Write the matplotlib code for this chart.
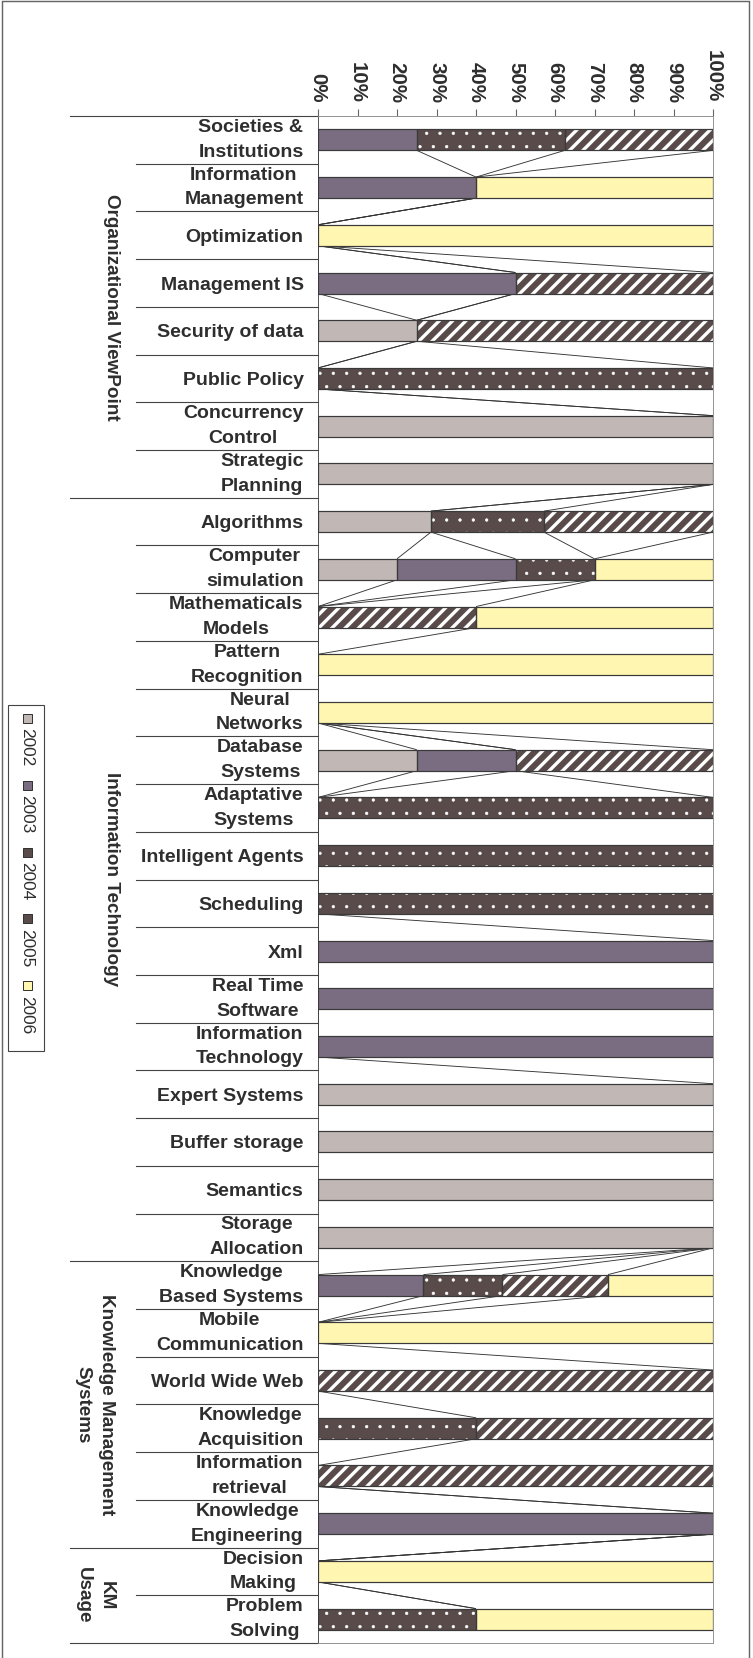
import numpy as np
import matplotlib
matplotlib.use("Agg")
import matplotlib.pyplot as plt
import matplotlib.transforms as mtransforms
from matplotlib.collections import LineCollection
from matplotlib.patches import Rectangle

# chart data: share (%) of each year per topic, topics listed top to bottom
categories = [
    "Societies &\nInstitutions", "Information\nManagement", "Optimization",
    "Management IS", "Security of data", "Public Policy",
    "Concurrency\nControl", "Strategic\nPlanning",
    "Algorithms", "Computer\nsimulation", "Mathematicals\nModels",
    "Pattern\nRecognition", "Neural\nNetworks", "Database\nSystems",
    "Adaptative\nSystems", "Intelligent Agents", "Scheduling", "Xml",
    "Real Time\nSoftware", "Information\nTechnology", "Expert Systems",
    "Buffer storage", "Semantics", "Storage\nAllocation",
    "Knowledge\nBased Systems", "Mobile\nCommunication", "World Wide Web",
    "Knowledge\nAcquisition", "Information\nretrieval",
    "Knowledge\nEngineering",
    "Decision\nMaking", "Problem\nSolving",
]

groups = ["Organizational ViewPoint", "Information Technology",
          "Knowledge Management\nSystems", "KM\nUsage"]
group_sizes = [8, 16, 6, 2]

years = ["2002", "2003", "2004", "2005", "2006"]

share_2002 = [0, 0, 0, 0, 25, 0, 100, 100,
              28.6, 20, 0, 0, 0, 25, 0, 0, 0, 0, 0, 0, 100, 100, 100, 100,
              0, 0, 0, 0, 0, 0,
              0, 0]
share_2003 = [25, 40, 0, 50, 0, 0, 0, 0,
              0, 30, 0, 0, 0, 25, 0, 0, 0, 100, 100, 100, 0, 0, 0, 0,
              26.7, 0, 0, 0, 0, 100,
              0, 0]
share_2004 = [37.5, 0, 0, 0, 0, 100, 0, 0,
              28.6, 20, 0, 0, 0, 0, 100, 100, 100, 0, 0, 0, 0, 0, 0, 0,
              20, 0, 0, 40, 0, 0,
              0, 40]
share_2005 = [37.5, 0, 0, 50, 75, 0, 0, 0,
              42.8, 0, 40, 0, 0, 50, 0, 0, 0, 0, 0, 0, 0, 0, 0, 0,
              26.7, 0, 100, 60, 100, 0,
              0, 0]
share_2006 = [0, 60, 100, 0, 0, 0, 0, 0,
              0, 30, 60, 100, 100, 0, 0, 0, 0, 0, 0, 0, 0, 0, 0, 0,
              26.6, 100, 0, 0, 0, 0,
              100, 60]

# styling
fills = ["#c1b8b5", "#7b6d81", "#584b4a", "#584b4a", "#fff7b1"]
hatches = [None, None, ".", "//", None]
hatch_widths = [0, 0, 0.5, 3.0, 0]
edge = "#3a3a3a"
text_col = "#2e2e2e"
sans = ["Liberation Sans", "DejaVu Sans"]

DPI = 80
W, H = 753, 1658


def px(x, y):
    return x / W, 1 - y / H


def hatched(patches, hatch_lw):
    for p in patches:
        if hasattr(p, "set_hatch_linewidth"):
            p.set_hatch_linewidth(hatch_lw)


fig = plt.figure(figsize=(W / DPI, H / DPI), dpi=DPI)
x0, y1 = px(318, 1643)
ax = fig.add_axes([x0, y1, 395 / W, 1527 / H])

shares = np.array([share_2002, share_2003, share_2004, share_2005, share_2006])
n = shares.shape[1]
ypos = np.arange(n)
bar_h = 0.44
cum = np.cumsum(shares, axis=0)
lefts = cum - shares

# series lines between consecutive bars
segs = []
for s in range(len(years)):
    for i in range(n - 1):
        segs.append([(cum[s, i], i + bar_h / 2), (cum[s, i + 1], i + 1 - bar_h / 2)])
ax.add_collection(LineCollection(segs, colors="#333333", linewidths=0.8, zorder=1))

for s in range(len(years)):
    m = shares[s] > 0
    ax.barh(ypos[m], shares[s][m], left=lefts[s][m], height=bar_h,
            color=fills[s], linewidth=0, zorder=2)
    if hatches[s]:
        hb = ax.barh(ypos[m], shares[s][m], left=lefts[s][m], height=bar_h,
                     color="none", edgecolor="white", hatch=hatches[s],
                     linewidth=0, zorder=3)
        hatched(hb, hatch_widths[s])
    ax.barh(ypos[m], shares[s][m], left=lefts[s][m], height=bar_h,
            fill=False, edgecolor=edge, linewidth=1.1, zorder=4)

ax.set_xlim(0, 100)
ax.set_ylim(n - 0.5, -0.5)

ax.xaxis.set_ticks_position("top")
ax.set_xticks(range(0, 101, 10))
ax.set_xticklabels([f"{v}%" for v in range(0, 101, 10)], rotation=-90,
                   fontsize=18.5, fontweight="bold", color=text_col,
                   family=sans)
ax.tick_params(axis="x", length=6, width=1, color="#666666", pad=6)

ax.set_yticks(ypos)
ax.set_yticklabels(categories, fontsize=17.5, fontweight="bold",
                   color=text_col, family=sans, multialignment="center",
                   linespacing=1.6)
for lab in ax.get_yticklabels():
    if "\n" in lab.get_text():
        lab.set_verticalalignment("center")
ax.tick_params(axis="y", length=0, pad=13)

for side in ["top", "right", "bottom"]:
    ax.spines[side].set_color("#8a8a8a")
ax.spines["left"].set_color("#444444")

# separators in the label area
trans = mtransforms.blended_transform_factory(ax.transAxes, ax.transData)
bounds = np.cumsum([0] + group_sizes)
for k in range(n + 1):
    start = -0.628 if k in bounds else -0.461
    ax.plot([start, 0], [k - 0.5, k - 0.5], transform=trans, color="#444444",
            linewidth=1, clip_on=False)

for g, name in enumerate(groups):
    mid = (bounds[g] + bounds[g + 1]) / 2 - 0.5
    gx = -0.565 if "\n" in name else -0.524
    ax.text(gx, mid, name, transform=trans, rotation=-90, ha="center",
            va="center", fontsize=17, fontweight="bold", color=text_col,
            family=sans, multialignment="center", linespacing=1.45)

# legend, drawn rotated like the rest of the chart
lx, ly = px(8, 1051)
fig.patches.append(Rectangle((lx, ly), 36 / W, 346 / H, transform=fig.transFigure,
                             fill=False, edgecolor="#444444", linewidth=1))
for k, yr in enumerate(years):
    yc = 718 + k * 67
    sx, sy = px(27 - 4.5, yc + 4.5)
    sq = Rectangle((sx, sy), 9 / W, 9 / H, transform=fig.transFigure,
                   facecolor=fills[k], edgecolor="#333333", linewidth=0.9)
    fig.patches.append(sq)
    if hatches[k] == "//":
        hs = Rectangle((sx, sy), 9 / W, 9 / H, transform=fig.transFigure,
                       facecolor="none", edgecolor="white", linewidth=0,
                       hatch="/")
        hatched([hs], 2.0)
        fig.patches.append(hs)
    tx, ty = px(27, yc + 10)
    fig.text(tx, ty, yr, rotation=-90, ha="center", va="top", fontsize=15.5,
             color=text_col, family=sans)

# outer frame
fig.patches.append(Rectangle((2 / W, -0.01), 747 / W, 1.01 - 1 / H,
                             transform=fig.transFigure, fill=False,
                             edgecolor="#666666", linewidth=1.3))

fig.savefig("out.png", dpi=DPI)
